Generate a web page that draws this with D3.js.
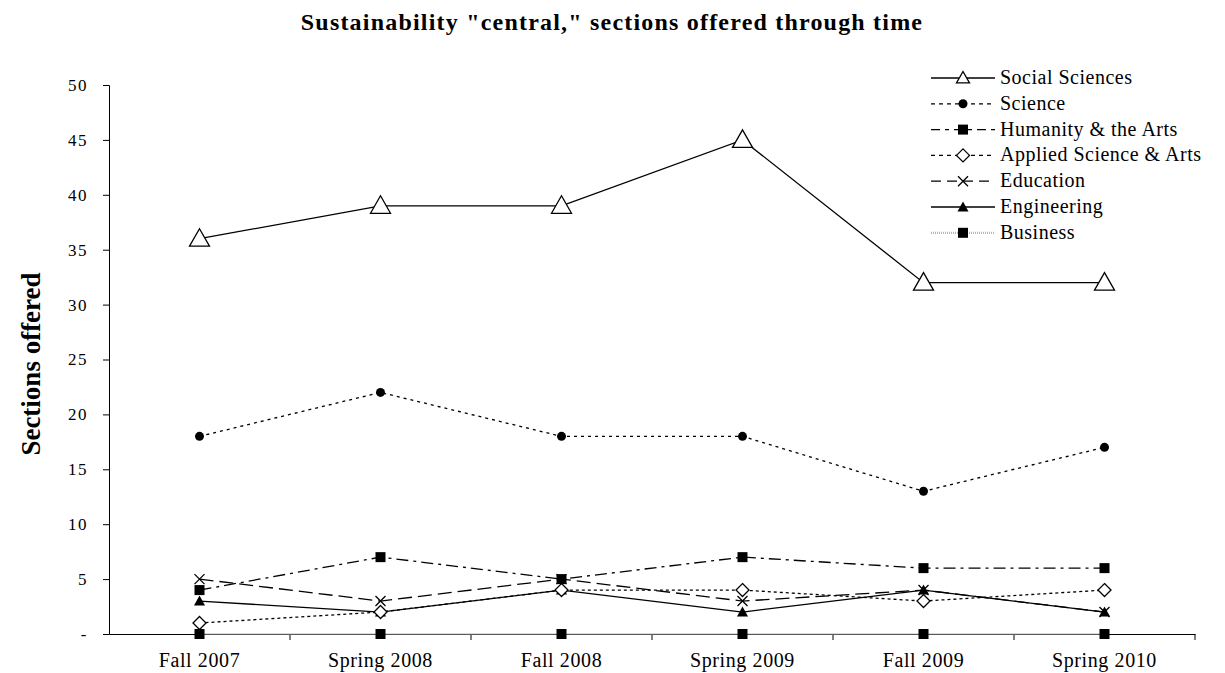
<!DOCTYPE html>
<html>
<head>
<meta charset="utf-8">
<script src="https://cdn.jsdelivr.net/npm/d3@7"></script>
<style>
  body { margin: 0; background: #fff; }
  text { font-family: "Liberation Serif", "DejaVu Serif", serif; fill: #000; }
</style>
</head>
<body>
<div id="chart"></div>
<script>
// chart data
const terms = ["Fall 2007", "Spring 2008", "Fall 2008", "Spring 2009", "Fall 2009", "Spring 2010"];
const socialSciences = [36, 39, 39, 45, 32, 32];
const science = [18, 22, 18, 18, 13, 17];
const humanityArts = [4, 7, 5, 7, 6, 6];
const appliedScienceArts = [1, 2, 4, 4, 3, 4];
const education = [5, 3, 5, 3, 4, 2];
const engineering = [3, 2, 4, 2, 4, 2];
const business = [0, 0, 0, 0, 0, 0];
const yTicks = [0, 5, 10, 15, 20, 25, 30, 35, 40, 45, 50];

const width = 1225, height = 673;
const margin = { left: 109, right: 30, top: 85, bottom: 39 };

const series = [
  { name: "Social Sciences", values: socialSciences, dash: null, legendDash: null, stroke: "#000", width: 1.3, marker: "triOpen" },
  { name: "Science", values: science, dash: "3,4", legendDash: "4,4", stroke: "#000", width: 1.3, marker: "circle" },
  { name: "Humanity & the Arts", values: humanityArts, dash: "12,5,3,5", legendDash: "9,5,4,5", stroke: "#000", width: 1.3, marker: "square" },
  { name: "Applied Science & Arts", values: appliedScienceArts, dash: "3,3", legendDash: "4,4", stroke: "#000", width: 1.3, marker: "diamond" },
  { name: "Education", values: education, dash: "14,6", legendDash: "10,6", stroke: "#000", width: 1.3, marker: "x" },
  { name: "Engineering", values: engineering, dash: null, legendDash: null, stroke: "#000", width: 1.3, marker: "triFill" },
  { name: "Business", values: business, dash: "1,1", legendDash: "1,1", stroke: "#b5b5b5", width: 2.2, marker: "square" }
];

const svg = d3.select("#chart").append("svg")
  .attr("width", width)
  .attr("height", height);

const x = d3.scaleBand()
  .domain(terms)
  .range([margin.left, width - margin.right]);

const y = d3.scaleLinear()
  .domain([0, 50])
  .range([height - margin.bottom, margin.top]);

// title
svg.append("text")
  .attr("x", 612)
  .attr("y", 30)
  .attr("text-anchor", "middle")
  .style("font-size", "24px")
  .style("font-weight", "bold")
  .style("letter-spacing", "1.2px")
  .text('Sustainability "central," sections offered through time');

// y axis title
svg.append("text")
  .attr("transform", `translate(40,364) rotate(-90)`)
  .attr("text-anchor", "middle")
  .style("font-size", "27px")
  .style("font-weight", "bold")
  .text("Sections offered");

// y axis
const yAxis = svg.append("g")
  .attr("transform", `translate(${margin.left},0)`)
  .call(d3.axisLeft(y).tickValues(yTicks).tickSize(6).tickPadding(15)
    .tickFormat(d => d === 0 ? "-" : d));
yAxis.attr("font-family", null);
yAxis.select(".domain").attr("stroke", "#000");
yAxis.selectAll("text")
  .style("font-size", "17px")
  .style("letter-spacing", "1.5px");

// x axis with ticks at category boundaries
const xAxis = svg.append("g")
  .attr("transform", `translate(0,${y(0)})`)
  .call(d3.axisBottom(x).tickSize(0).tickPadding(19));
xAxis.attr("font-family", null);
xAxis.select(".domain").attr("stroke", "#000");
xAxis.selectAll("text")
  .style("font-size", "20px")
  .style("letter-spacing", "0.6px");
xAxis.selectAll(".bound")
  .data(terms.map((t, i) => i + 1))
  .join("line")
  .attr("class", "bound")
  .attr("x1", i => margin.left + i * x.bandwidth())
  .attr("x2", i => margin.left + i * x.bandwidth())
  .attr("y1", 0)
  .attr("y2", 6)
  .attr("stroke", "#000");

function drawMarker(g, type, cx, cy, scale) {
  const k = scale || 1;
  if (type === "triOpen") {
    const s = 10 * k;
    g.append("path")
      .attr("d", `M${cx},${cy - s} L${cx + s},${cy + s * 0.75} L${cx - s},${cy + s * 0.75} Z`)
      .attr("fill", "#fff").attr("stroke", "#000").attr("stroke-width", 1.3);
  } else if (type === "triFill") {
    const s = 5.5;
    g.append("path")
      .attr("d", `M${cx},${cy - s} L${cx + s},${cy + s * 0.8} L${cx - s},${cy + s * 0.8} Z`)
      .attr("fill", "#000");
  } else if (type === "circle") {
    g.append("circle").attr("cx", cx).attr("cy", cy).attr("r", 4.5).attr("fill", "#000");
  } else if (type === "square") {
    g.append("rect").attr("x", cx - 5).attr("y", cy - 5).attr("width", 10).attr("height", 10).attr("fill", "#000");
  } else if (type === "diamond") {
    const s = 6.5;
    g.append("path")
      .attr("d", `M${cx},${cy - s} L${cx + s},${cy} L${cx},${cy + s} L${cx - s},${cy} Z`)
      .attr("fill", "#fff").attr("stroke", "#000").attr("stroke-width", 1.3);
  } else if (type === "x") {
    const s = 5;
    g.append("path")
      .attr("d", `M${cx - s},${cy - s} L${cx + s},${cy + s} M${cx + s},${cy - s} L${cx - s},${cy + s}`)
      .attr("stroke", "#000").attr("stroke-width", 1.3);
  }
}

const line = d3.line()
  .x((d, i) => x(terms[i]) + x.bandwidth() / 2)
  .y(d => y(d));

// draw in reverse so Social Sciences ends up on top
const plot = svg.append("g");
series.slice().reverse().forEach(s => {
  plot.append("path")
    .datum(s.values)
    .attr("d", line)
    .attr("fill", "none")
    .attr("stroke", s.stroke)
    .attr("stroke-width", s.width)
    .attr("stroke-dasharray", s.dash);
});
series.slice().reverse().forEach(s => {
  const g = plot.append("g");
  s.values.forEach((v, i) => drawMarker(g, s.marker, x(terms[i]) + x.bandwidth() / 2, y(v)));
});

// legend
const legend = svg.append("g").attr("transform", "translate(931,78)");
series.forEach((s, i) => {
  const g = legend.append("g").attr("transform", `translate(0,${i * 25.8})`);
  g.append("line")
    .attr("x1", 0).attr("x2", 64).attr("y1", 0).attr("y2", 0)
    .attr("stroke", s.stroke)
    .attr("stroke-width", s.width)
    .attr("stroke-dasharray", s.legendDash);
  drawMarker(g, s.marker, 32, 0, 0.65);
  g.append("text")
    .attr("x", 69)
    .attr("y", 6)
    .style("font-size", "20px")
    .style("letter-spacing", "0.5px")
    .text(s.name);
});
</script>
</body>
</html>
